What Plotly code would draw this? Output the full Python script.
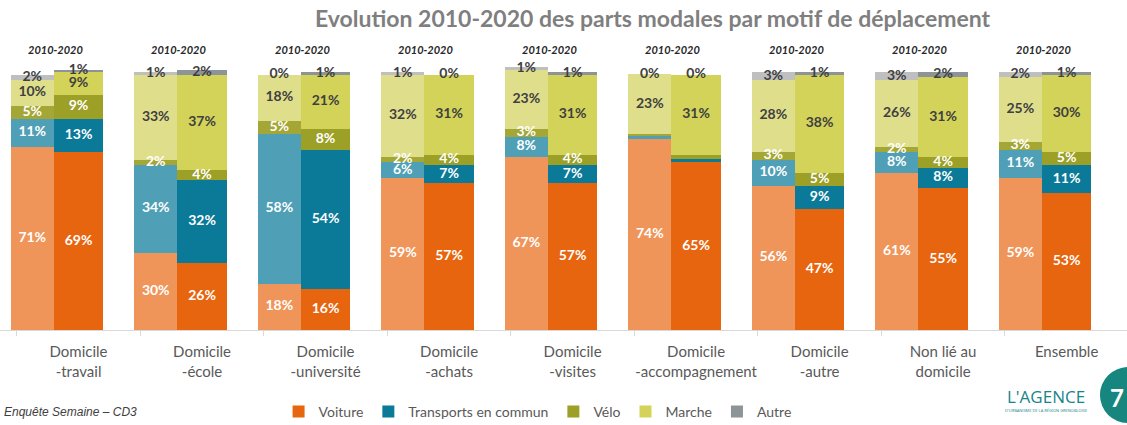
import plotly.graph_objects as go

# ---------------- data ----------------
categories = ["Domicile<br>-travail", "Domicile<br>-école", "Domicile<br>-université",
              "Domicile<br>-achats", "Domicile<br>-visites", "Domicile<br>-accompagnement",
              "Domicile<br>-autre", "Non lié au<br>domicile", "Ensemble"]
modes = ["Voiture", "Transports en commun", "Vélo", "Marche", "Autre"]
period_label = "2010-2020"

voiture_2010 = [71, 30, 18, 59, 67, 74, 56, 61, 59]
voiture_2020 = [69, 26, 16, 57, 57, 65, 47, 55, 53]
tc_2010 = [11, 34, 58, 6, 8, 1.3, 10, 8, 11]
tc_2020 = [13, 32, 54, 7, 7, 1.3, 9, 8, 11]
velo_2010 = [5, 2, 5, 2, 3, 0.8, 3, 2, 3]
velo_2020 = [9, 4, 8, 4, 4, 1.7, 5, 4, 5]
marche_2010 = [10, 33, 18, 32, 23, 23, 28, 26, 25]
marche_2020 = [9, 37, 21, 31, 31, 31, 38, 31, 30]
autre_2010 = [2, 1, 0, 1, 1, 0, 3, 3, 2]
autre_2020 = [1, 2, 1, 0, 1, 0, 1, 2, 1]

values = {
    "2010": [voiture_2010, tc_2010, velo_2010, marche_2010, autre_2010],
    "2020": [voiture_2020, tc_2020, velo_2020, marche_2020, autre_2020],
}

# ---------------- styles ----------------
colors = {
    "2010": ["#F0955A", "#4FA0B6", "#A4A735", "#DFDE8B", "#BFBFBF"],
    "2020": ["#E8650F", "#0A7A98", "#9CA027", "#D3D35A", "#8C9497"],
}
label_colors = ["white", "white", "white", "#404040", "#404040"]
offsets = {"2010": -0.375, "2020": 0.0}
widths = {"2010": 0.345, "2020": 0.40}

FONT = "Lato"

fig = go.Figure()
n = len(categories)

# bars
for m_idx, mode in enumerate(modes):
    for year in ["2010", "2020"]:
        fig.add_trace(go.Bar(
            x=[i + offsets[year] for i in range(n)],
            y=values[year][m_idx],
            width=widths[year],
            name=mode,
            legendgroup=mode,
            showlegend=(year == "2020"),
            marker=dict(color=colors[year][m_idx], line=dict(width=0)),
            hoverinfo="skip",
        ))

# data labels (centred in each segment)
for year in ["2010", "2020"]:
    cum = [0.0] * n
    for m_idx, mode in enumerate(modes):
        vals = values[year][m_idx]
        ys, txt = [], []
        for i in range(n):
            v = vals[i]
            ys.append(cum[i] + v / 2.0)
            cum[i] += v
            txt.append(f"{v:.0f}%" if (v >= 2 or mode == "Autre") else "")
        fig.add_trace(go.Scatter(
            x=[i + offsets[year] for i in range(n)],
            y=ys,
            mode="text",
            text=txt,
            textposition="middle center",
            textfont=dict(family=FONT, size=14, color=label_colors[m_idx], weight="bold"),
            showlegend=False,
            hoverinfo="skip",
            cliponaxis=False,
        ))

# "2010-2020" above each pair
for i in range(n):
    fig.add_annotation(
        x=i - 0.19, xref="x", y=1.066, yref="paper",
        text=f"<b><i>{period_label}</i></b>", showarrow=False,
        font=dict(family=FONT, size=11, color="#262626"),
        xanchor="center", yanchor="middle",
    )

fig.update_layout(
    width=1127, height=425,
    margin=dict(l=0, r=0, t=67, b=95, autoexpand=False),
    paper_bgcolor="white", plot_bgcolor="white",
    barmode="stack",
    title=dict(
        text="<b>Evolution 2010-2020 des parts modales par motif de déplacement</b>",
        x=0.579, xanchor="center", xref="paper",
        y=0.956, yanchor="middle", yref="container",
        font=dict(family=FONT, size=23, color="#7F7F7F"),
    ),
    xaxis=dict(
        range=[-0.636, 8.489], automargin=False,
        tickmode="array", tickvals=list(range(n)), ticktext=categories,
        ticks="", showline=True, linecolor="#D9D9D9", linewidth=1,
        showgrid=False, zeroline=False, ticklabelstandoff=8,
        tickfont=dict(family=FONT, size=15, color="#595959"),
        minor=dict(tickmode="array", tickvals=[i - 0.5 for i in range(n + 1)],
                   ticks="outside", ticklen=5, tickcolor="#D9D9D9", tickwidth=1,
                   showgrid=False),
    ),
    yaxis=dict(range=[0, 102], visible=False, automargin=False),
    legend=dict(
        orientation="h", x=0.477, xanchor="center",
        y=0.031, yanchor="middle", yref="container",
        font=dict(family=FONT, size=14, color="#595959"),
        traceorder="normal", itemclick=False, itemwidth=30,
    ),
    showlegend=True,
)

# source note
fig.add_annotation(
    x=0.002, xref="paper", y=-0.312, yref="paper",
    text="<i>Enquête Semaine – CD3</i>", showarrow=False,
    font=dict(family="Liberation Sans", size=12, color="#404040"),
    xanchor="left", yanchor="middle",
)

# logo
fig.add_annotation(
    x=0.928, xref="paper", y=-0.251, yref="paper",
    text="L'AGENCE", showarrow=False,
    font=dict(family="Open Sans", size=17, color="#17858A"),
    xanchor="center", yanchor="middle",
)
fig.add_annotation(
    x=0.928, xref="paper", y=-0.305, yref="paper",
    text="D'URBANISME DE LA RÉGION GRENOBLOISE", showarrow=False,
    font=dict(family="Open Sans", size=4, color="#17858A"),
    xanchor="center", yanchor="middle",
)
# page number badge
fig.add_shape(type="circle", xref="paper", yref="paper",
              x0=0.976, x1=1.026, y0=-0.354, y1=-0.141,
              fillcolor="#16867F", line=dict(width=0), layer="above")
fig.add_annotation(
    x=0.991, xref="paper", y=-0.255, yref="paper",
    text="<b>7</b>", showarrow=False,
    font=dict(family=FONT, size=24, color="white"),
    xanchor="center", yanchor="middle",
)

fig.write_html("out.html", config={"displayModeBar": False},
               post_script="document.body.style.margin='0';")
